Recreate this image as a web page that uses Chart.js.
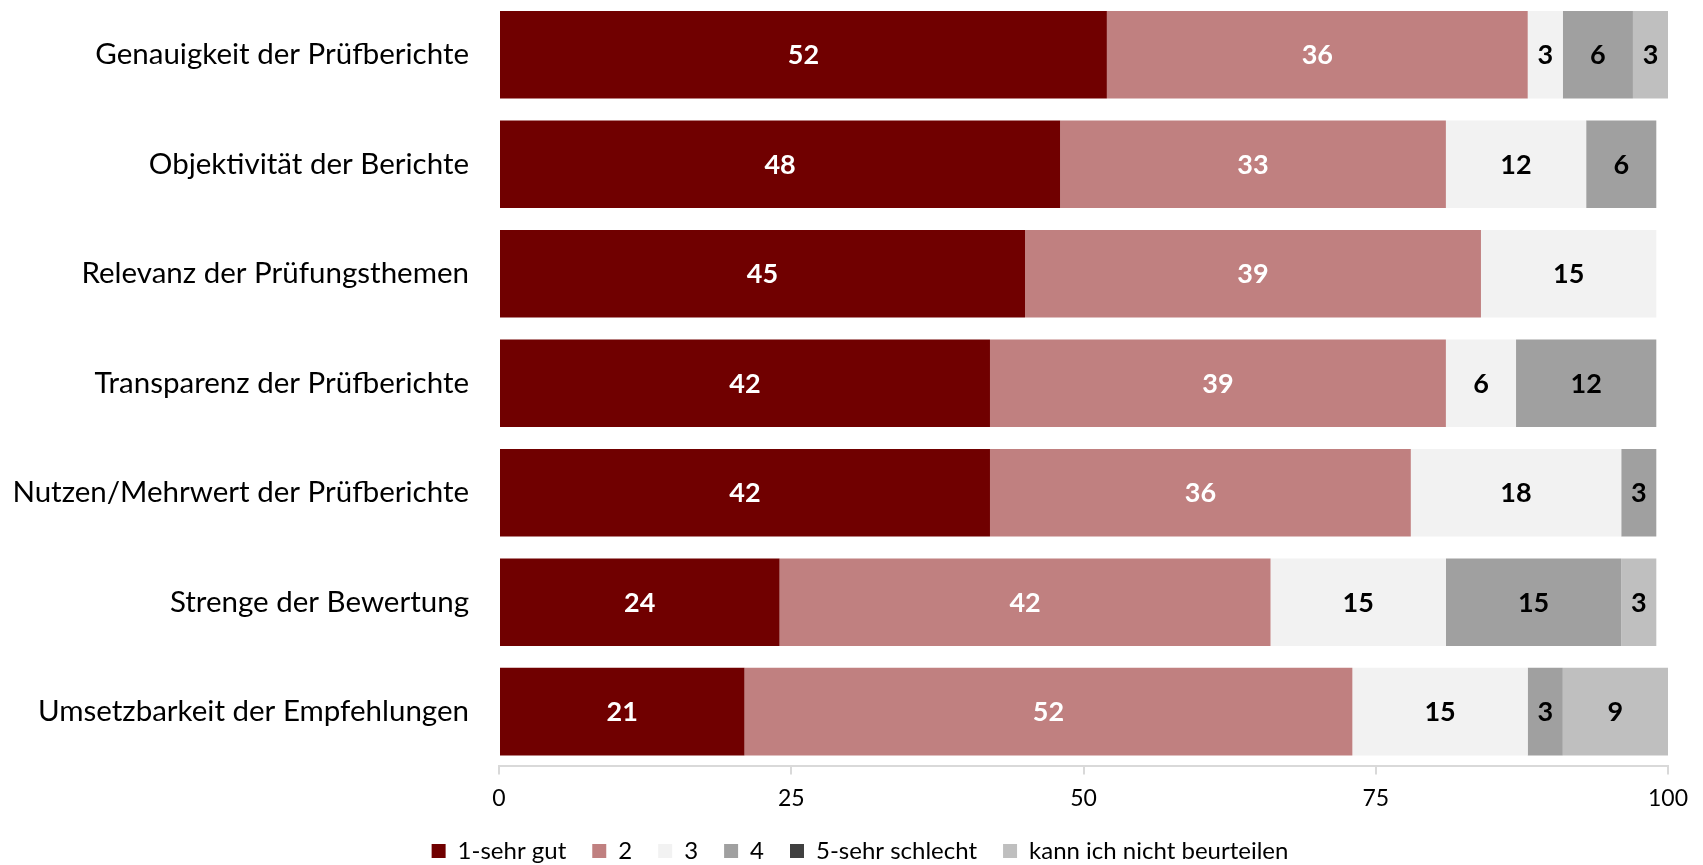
<!DOCTYPE html>
<html lang="de">
<head>
<meta charset="utf-8">
<title>Bewertung der Prüfberichte</title>
<script src="https://cdn.jsdelivr.net/npm/chart.js@4.4.1/dist/chart.umd.min.js"></script>
<style>
  html, body { margin: 0; padding: 0; background: #fff; }
  #wrap { width: 1703px; height: 865px; position: relative; }
</style>
</head>
<body>
<div id="wrap"><canvas id="grafico"></canvas></div>
<script>
// ========= Daten =========
const kategorien = [
    'Genauigkeit der Prüfberichte',
    'Objektivität der Berichte',
    'Relevanz der Prüfungsthemen',
    'Transparenz der Prüfberichte',
    'Nutzen/Mehrwert der Prüfberichte',
    'Strenge der Bewertung',
    'Umsetzbarkeit der Empfehlungen'
];
const sehrGut      = [52, 48, 45, 42, 42, 24, 21];
const note2        = [36, 33, 39, 39, 36, 42, 52];
const note3        = [3, 12, 15, 6, 18, 15, 15];
const note4        = [6, 6, 0, 12, 3, 15, 3];
const sehrSchlecht = [0, 0, 0, 0, 0, 0, 0];
const nichtBeurt   = [3, 0, 0, 0, 0, 3, 9];
const xTicks       = [0, 25, 50, 75, 100];

const SCHRIFT = 'Lato, "Open Sans", sans-serif';

// ========= Werte in den Balken =========
const balkenWerte = {
    id: 'balkenWerte',
    afterDatasetsDraw(chart) {
        const ctx = chart.ctx;
        ctx.save();
        ctx.font = 'bold 27px ' + SCHRIFT;
        ctx.textAlign = 'center';
        ctx.textBaseline = 'middle';
        chart.data.datasets.forEach((ds, i) => {
            const meta = chart.getDatasetMeta(i);
            if (meta.hidden) return;
            meta.data.forEach((bar, j) => {
                const v = ds.data[j];
                if (!v) return;
                const p = bar.getProps(['x', 'y', 'base'], true);
                ctx.fillStyle = ds.labelColor;
                ctx.fillText(String(v), (p.x + p.base) / 2, p.y + 1);
            });
        });
        ctx.restore();
    }
};

// Legende etwas nach rechts rücken (mittig unter der ganzen Fläche)
const legendeVerschieben = {
    id: 'legendeVerschieben',
    afterLayout(chart) {
        const lg = chart.legend;
        if (!lg) return;
        lg.left += 26;
        lg.right += 26;
    }
};

// ========= Grafik =========
const serien = [
    { label: '1-sehr gut', data: sehrGut, backgroundColor: '#700000', labelColor: '#ffffff' },
    { label: '2', data: note2, backgroundColor: '#c08080', labelColor: '#ffffff' },
    { label: '3', data: note3, backgroundColor: '#f2f2f2', labelColor: '#000000' },
    { label: '4', data: note4, backgroundColor: '#a0a0a0', labelColor: '#000000' },
    { label: '5-sehr schlecht', data: sehrSchlecht, backgroundColor: '#404040', labelColor: '#ffffff' },
    { label: 'kann ich nicht beurteilen', data: nichtBeurt, backgroundColor: '#bfbfbf', labelColor: '#000000' }
];

new Chart(document.getElementById('grafico'), {
    type: 'bar',
    data: {
        labels: kategorien,
        datasets: serien.map(s => ({
            ...s,
            borderWidth: 0,
            barPercentage: 0.8,
            categoryPercentage: 1
        }))
    },
    plugins: [balkenWerte, legendeVerschieben],
    options: {
        indexAxis: 'y',
        responsive: true,
        maintainAspectRatio: false,
        animation: false,
        // Legende sitzt knapp am unteren Rand
        layout: { padding: { left: 0, right: 35, top: 0, bottom: -8 } },
        scales: {
            x: {
                stacked: true,
                min: 0,
                max: 100,
                afterBuildTicks: scale => { scale.ticks = xTicks.map(v => ({ value: v })); },
                afterFit: scale => { scale.height -= 9; },
                grid: { drawOnChartArea: false, drawTicks: true, tickLength: 8, color: '#d9d9d9', lineWidth: 2 },
                border: { display: true, color: '#d9d9d9', width: 2 },
                ticks: { color: '#000', font: { family: SCHRIFT, size: 23 }, padding: 10, maxRotation: 0 }
            },
            y: {
                stacked: true,
                afterFit: scale => {
                    scale.width = 499;
                    // kein Zusatzabstand oben/unten durch die Beschriftungen
                    scale.paddingTop = 0;
                    scale.paddingBottom = 0;
                },
                grid: { display: false },
                border: { display: false },
                ticks: { color: '#000', font: { family: SCHRIFT, size: 29.5 }, padding: 22 }
            }
        },
        plugins: {
            legend: {
                position: 'bottom',
                labels: {
                    color: '#000',
                    font: { family: SCHRIFT, size: 24 },
                    boxWidth: 14,
                    boxHeight: 14,
                    padding: 26
                }
            },
            tooltip: { enabled: false }
        }
    }
});
</script>
</body>
</html>
